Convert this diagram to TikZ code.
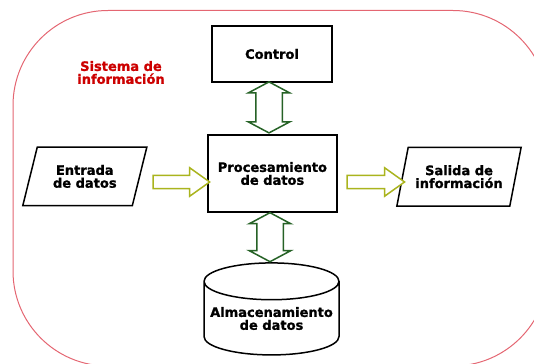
\documentclass[tikz,border=0pt]{standalone}
\usepackage{fontspec}
\setmainfont[BoldFeatures={FakeBold=1.2}]{DejaVu Sans}
\usetikzlibrary{shapes.geometric,shapes.arrows}

\definecolor{bordecol}{RGB}{228,102,114}
\definecolor{rojotxt}{RGB}{204,0,0}
\definecolor{verdeosc}{RGB}{38,98,38}
\definecolor{amarillo}{RGB}{170,180,30}

\tikzset{
  letra/.style={font=\fontsize{11.1pt}{11pt}\selectfont\bfseries},
  caja/.style={letra, draw, line width=0.45mm, fill=white, align=center},
  datos/.style={caja, trapezium, trapezium left angle=67, trapezium right angle=113,
    trapezium stretches=true, minimum width=37.5mm, minimum height=17.6mm, inner sep=0pt},
  disco/.style={caja, cylinder, shape border rotate=90, aspect=0.3,
    minimum width=40.5mm, minimum height=27.6mm, inner sep=0pt},
  flechadoble/.style={double arrow, draw=verdeosc, line width=0.45mm, fill=white,
    double arrow tip angle=124, double arrow head extend=2.25mm,
    inner xsep=0pt, inner ysep=3.75mm, rotate=90},
  flecha/.style={single arrow, draw=amarillo, line width=0.45mm, fill=white,
    single arrow tip angle=71, single arrow head extend=2.3mm,
    inner xsep=0pt, inner ysep=1.74mm}
}

\begin{document}
\begin{tikzpicture}[x=0.3mm,y=0.3mm]
\useasboundingbox (0,0) rectangle (534,364);
\clip (0,0) rectangle (534,364);

% marco del sistema
\draw[bordecol, line width=0.3mm, rounded corners=28.5mm] (13,353.5) rectangle (548,-2);
\node[letra, text=rojotxt, align=center] (sis) at (121,291.5) {Sistema de\\informaci\'on};

\node[caja, minimum width=36mm, minimum height=16.8mm] (ctrl) at (272,310) {Control};
\node[caja, minimum width=38.7mm, minimum height=23.1mm] (proc) at (272.4,190.5) {Procesamiento\\de datos};
\node[datos] (ent) at (84.8,187.6) {Entrada\\de datos};
\node[datos] (sal) at (459,187.3) {Salida de\\informaci\'on};
\node[disco] (alm) at (271.5,45.5) {Almacenamiento\\de datos};

% flechas
\node[flechadoble, minimum height=15.3mm] (f1) at (269,256.6) {};
\node[flechadoble, minimum height=14.7mm] (f2) at (270,126.8) {};
\node[flecha, minimum height=16.95mm] (f3) at (176.8,182) {};
\node[flecha, minimum height=17.2mm] (f4) at (371.3,182) {};

\end{tikzpicture}
\end{document}
